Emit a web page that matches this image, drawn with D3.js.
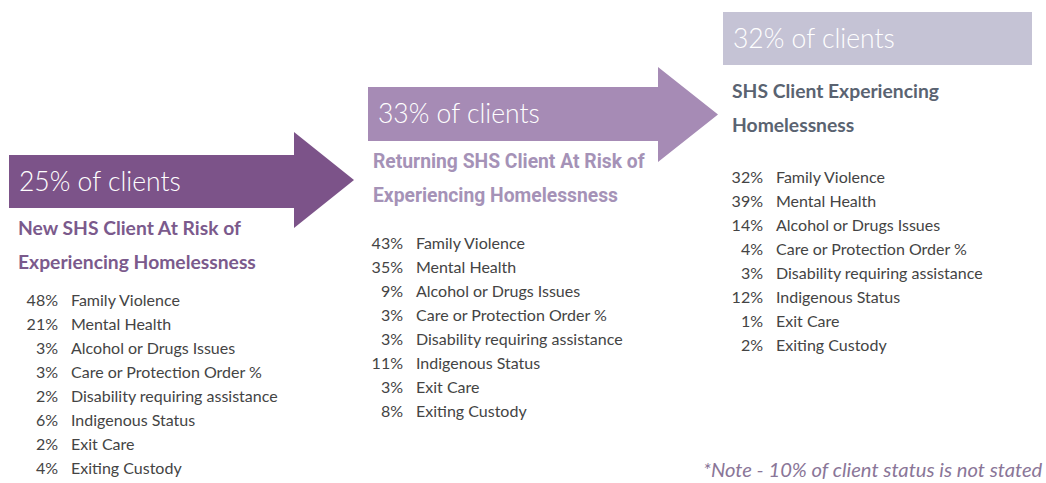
<!DOCTYPE html>
<html><head><meta charset="utf-8">
<script src="https://cdn.jsdelivr.net/npm/d3@7"></script>
<style>html,body{margin:0;padding:0;background:#fff;}svg{display:block;font-family:Lato,"Open Sans",sans-serif;}</style>
</head><body><svg id="c" width="1046" height="483"></svg>
<script>
const categories = ["Family Violence","Mental Health","Alcohol or Drugs Issues","Care or Protection Order %","Disability requiring assistance","Indigenous Status","Exit Care","Exiting Custody"];
const newAtRisk = [48,21,3,3,2,6,2,4];
const returningAtRisk = [43,35,9,3,3,11,3,8];
const experiencing = [32,39,14,4,3,12,1,2];
const shares = [25,33,32];
const titles = [["New SHS Client At Risk of","Experiencing Homelessness"],["Returning SHS Client At Risk of","Experiencing Homelessness"],["SHS Client Experiencing","Homelessness"]];
const note = "*Note - 10% of client status is not stated";

const svg = d3.select("#c");
const groups = [
  {vals:newAtRisk, share:shares[0], title:titles[0], shape:"arrow", x0:9, bodyTop:155, bodyBot:208, headX:294, headTop:132, headBot:228, tipX:354,
   fill:"#7c5389", titleColor:"#7b5a8c", titleFont:"Lato", titleX:18, titleY:235, listTop:300, pctX:58},
  {vals:returningAtRisk, share:shares[1], title:titles[1], shape:"arrow", x0:368, bodyTop:87, bodyBot:141, headX:658, headTop:67, headBot:162, tipX:718,
   fill:"#a68bb5", titleColor:"#a592b7", titleFont:"Roboto", titleX:373, titleY:168, listTop:243, pctX:403},
  {vals:experiencing, share:shares[2], title:titles[2], shape:"box", x0:723, bodyTop:12, bodyBot:65, x1:1032,
   fill:"#c5c3d5", titleColor:"#5a6371", titleFont:"Lato", titleX:732, titleY:98, listTop:177, pctX:763}
];

groups.forEach(g => {
  let pts;
  if (g.shape === "arrow") {
    const mid = (g.headTop + g.headBot)/2;
    pts = [[g.x0,g.bodyTop],[g.headX,g.bodyTop],[g.headX,g.headTop],[g.tipX,mid],[g.headX,g.headBot],[g.headX,g.bodyBot],[g.x0,g.bodyBot]];
  } else {
    pts = [[g.x0,g.bodyTop],[g.x1,g.bodyTop],[g.x1,g.bodyBot],[g.x0,g.bodyBot]];
  }
  svg.append("path").attr("d", d3.line()(pts) + "Z").attr("fill", g.fill);
  svg.append("text").attr("x", g.x0 + 10).attr("y", (g.bodyTop+g.bodyBot)/2 + 9)
    .attr("fill","#fff").attr("font-size", 26.5).attr("font-weight",300).text(g.share + "% of clients");
  g.title.forEach((t,i) => {
    svg.append("text").attr("x", g.titleX).attr("y", g.titleY + i*34)
      .attr("fill", g.titleColor).attr("font-size", 19.3).attr("font-weight", 700)
      .attr("font-family", g.titleFont).text(t);
  });
  const y = d3.scalePoint().domain(categories).range([g.listTop, g.listTop + 24*(categories.length-1)]);
  const rows = svg.append("g").selectAll("g").data(categories).join("g")
    .attr("transform", d => `translate(0,${y(d)})`);
  rows.append("text").attr("x", g.pctX).attr("dy","0.35em").attr("text-anchor","end")
    .attr("fill","#444").attr("font-size",16).text((d,i) => g.vals[i] + "%");
  rows.append("text").attr("x", g.pctX + 13).attr("dy","0.35em")
    .attr("fill","#444").attr("font-size",16).text(d => d);
});

svg.append("text").attr("x", 703).attr("y", 477).attr("fill","#8a7698")
  .attr("font-size", 20.2).attr("font-style","italic").text(note);
</script></body></html>
